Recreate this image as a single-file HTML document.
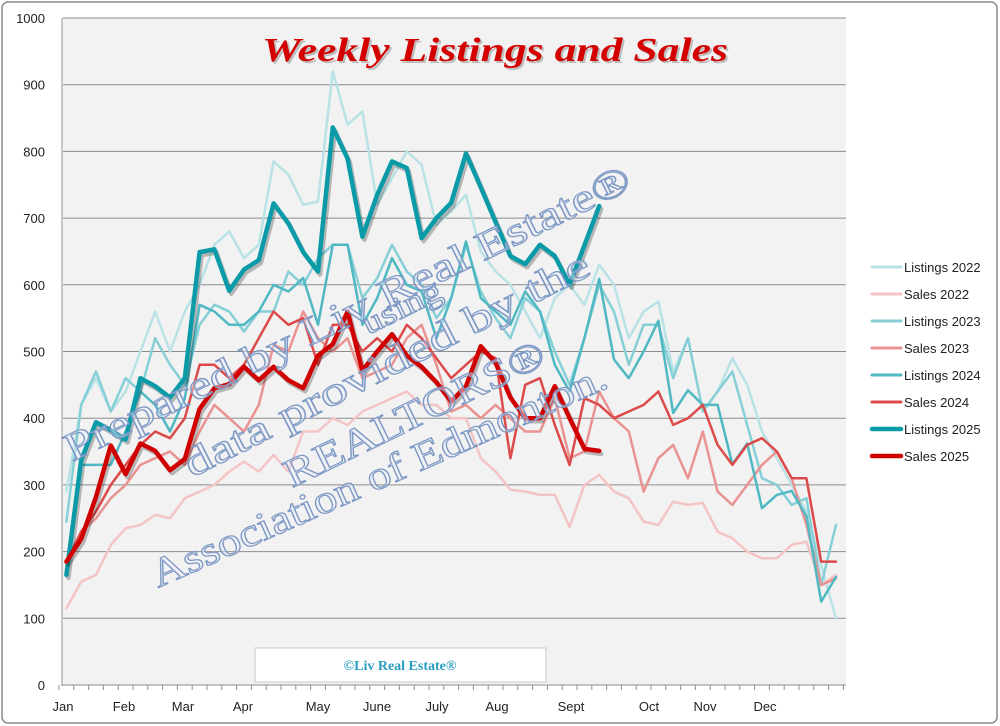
<!DOCTYPE html>
<html><head><meta charset="utf-8">
<style>
html,body{margin:0;padding:0;background:#fff;}
body{width:1000px;height:726px;overflow:hidden;}
</style></head>
<body>
<svg id="c" width="1000" height="726" xmlns="http://www.w3.org/2000/svg" style="position:absolute;left:0;top:0">
<rect x="2" y="2" width="995" height="721" rx="6" fill="#fff" stroke="#8a8a8a" stroke-width="1.5"/>
<rect x="63" y="18" width="783" height="667" fill="#f2f2f2"/>
<g id="grid"></g>
<g id="series" stroke-linejoin="round" stroke-linecap="round" fill="none"></g>
<g font-family="Liberation Serif, serif" font-size="40" fill="rgba(235,240,250,0.45)" stroke="#7d98c4" stroke-width="1.2">
<text transform="translate(72,462) rotate(-26)" textLength="625" lengthAdjust="spacingAndGlyphs">Prepared by Liv Real Estate®</text>
<text transform="translate(368,335) rotate(-26)" font-size="32" textLength="85" lengthAdjust="spacingAndGlyphs">using</text>
<text transform="translate(192,478) rotate(-27)" textLength="450" lengthAdjust="spacingAndGlyphs">data provided by the</text>
<text transform="translate(292,488) rotate(-26)" textLength="285" lengthAdjust="spacingAndGlyphs">REALTORS®</text>
<text transform="translate(158,588) rotate(-24)" textLength="495" lengthAdjust="spacingAndGlyphs">Association of Edmonton.</text>
</g>
<text x="497" y="63" text-anchor="middle" font-family="Liberation Serif, serif" font-weight="bold" font-style="italic" font-size="34" fill="#999" opacity="0.6" textLength="466" lengthAdjust="spacingAndGlyphs">Weekly Listings and Sales</text>
<text x="495" y="61" text-anchor="middle" font-family="Liberation Serif, serif" font-weight="bold" font-style="italic" font-size="34" fill="#d40000" textLength="466" lengthAdjust="spacingAndGlyphs">Weekly Listings and Sales</text>
<rect x="255" y="648" width="291" height="34" fill="#fff" stroke="#c8c8c8"/>
<text x="400" y="670" text-anchor="middle" font-family="Liberation Serif, serif" font-weight="bold" font-size="14" fill="#2a9cc0">©Liv Real Estate®</text>
<g id="legend" font-family="Liberation Sans, sans-serif" font-size="13" fill="#222"></g>
<g id="axis" font-family="Liberation Sans, sans-serif" font-size="13" fill="#222"></g>
</svg>
<script>
var NS="http://www.w3.org/2000/svg";
function el(t,a,p,txt){var e=document.createElementNS(NS,t);for(var k in a)e.setAttribute(k,a[k]);if(txt!=null)e.textContent=txt;document.getElementById(p).appendChild(e);return e;}
function Y(v){return 685-v*0.667;}
for(var v=100;v<=1000;v+=100){el('line',{x1:63,x2:846,y1:Y(v),y2:Y(v),stroke:'#8c8c8c','stroke-width':1},'grid');}
for(var v=0;v<=1000;v+=100){el('text',{x:45,y:Y(v)+5,'text-anchor':'end'},'axis',String(v));}
el('line',{x1:62,x2:62,y1:18,y2:686,stroke:'#8c8c8c'},'axis');
el('line',{x1:62,x2:846,y1:685,y2:685,stroke:'#8c8c8c'},'axis');
for(var k=0;k<=53;k++){var x=59+14.8*k;el('line',{x1:x,x2:x,y1:685,y2:690,stroke:'#8c8c8c'},'axis');}
var months=[["Jan",63],["Feb",124],["Mar",183],["Apr",243],["May",318],["June",377],["July",437],["Aug",497],["Sept",571],["Oct",649],["Nov",705],["Dec",765]];
months.forEach(function(m){el('text',{x:m[1],y:711,'text-anchor':'middle'},'axis',m[0]);});
var D={
L22:[290,420,460,410,440,500,560,500,560,600,660,680,640,660,785,765,720,725,920,840,860,720,760,800,780,690,710,735,650,620,600,560,520,580,600,570,630,600,520,560,575,470,520,410,440,490,450,380,340,300,260,180,100],
S22:[115,155,165,210,235,240,255,250,280,290,300,320,335,320,345,320,380,380,400,390,410,420,430,440,420,420,400,400,340,320,293,290,285,285,237,300,315,290,280,245,240,275,270,273,230,220,200,190,190,210,215,150,165],
L23:[245,420,470,410,460,440,520,480,450,540,570,560,530,560,560,620,600,640,660,660,580,610,660,620,600,550,580,660,590,550,520,580,560,500,450,520,600,560,480,540,540,460,520,410,440,470,390,310,300,270,280,150,240],
S23:[180,230,250,280,300,330,340,350,330,380,420,400,380,420,510,500,560,520,500,520,460,470,480,520,540,480,410,420,400,420,400,380,380,430,340,350,440,400,380,290,340,360,310,380,290,270,300,330,350,310,240,150,160],
L24:[165,330,330,330,380,440,420,380,430,570,560,540,540,560,600,590,610,540,660,660,540,580,640,600,590,520,580,665,580,560,540,590,560,480,440,520,609,488,460,500,546,408,442,420,420,331,362,265,285,291,253,125,162],
S24:[185,230,260,300,330,360,380,370,400,480,480,460,480,520,560,540,550,480,540,540,500,520,500,540,520,490,460,480,500,490,340,450,460,390,330,430,420,400,410,420,440,390,400,420,360,330,360,370,350,310,310,185,185],
L25:[165,337,394,382,368,460,448,431,460,649,653,591,623,637,722,692,649,620,836,789,672,735,785,775,670,700,723,797,746,694,643,631,660,643,600,659,718],
S25:[185,219,282,359,316,362,351,322,339,414,445,451,477,457,477,457,445,494,511,560,471,500,526,494,477,454,425,448,508,483,431,400,400,448,400,354,351]};
var st=[["L22","#b9e2e6",2.5,1,"Listings 2022"],["S22","#f4c4c4",2.5,1,"Sales 2022"],["L23","#86cfd6",2.5,1,"Listings 2023"],["S23","#e99292",2.5,1,"Sales 2023"],["L24","#4fb8c3",2.5,1,"Listings 2024"],["S24","#dc4a4a",2.5,1,"Sales 2024"],["L25","#0a9aa8",4.5,1,"Listings 2025"],["S25","#d00000",4.5,1,"Sales 2025"]];
st.forEach(function(s,j){
 var pts=D[s[0]].map(function(v,i){return (66.4+14.8*i).toFixed(1)+","+Y(v).toFixed(1);}).join(" ");
 if(s[2]>3) el('polyline',{points:pts,stroke:'rgba(0,0,0,0.25)','stroke-width':s[2],transform:'translate(2,3)'},'series');
 el('polyline',{points:pts,stroke:s[1],'stroke-width':s[2]},'series');
 var y=267+27*j;
 el('line',{x1:872,x2:901,y1:y,y2:y,stroke:s[1],'stroke-width':s[2]>3?4.5:3,'stroke-linecap':'round'},'legend');
 el('text',{x:904,y:y+5},'legend',s[4]);
});
</script>
</body></html>
